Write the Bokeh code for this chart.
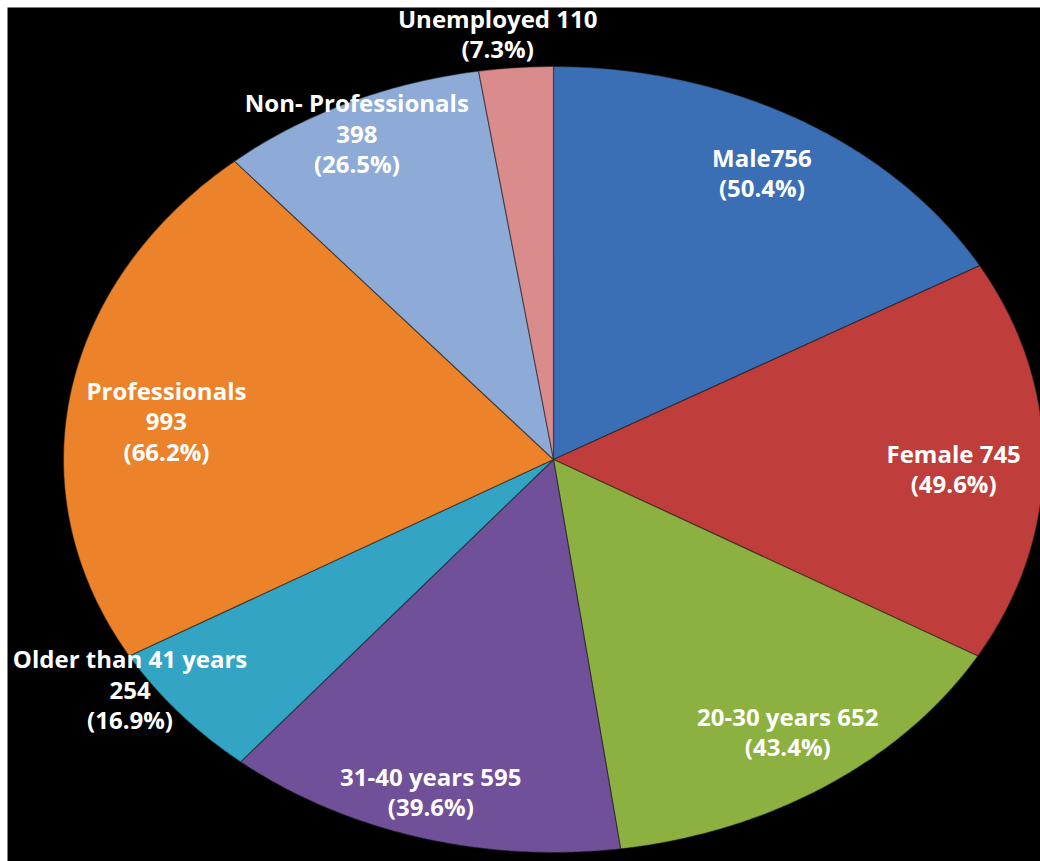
import numpy as np
from bokeh.plotting import figure
from bokeh.models import Range1d, ColumnDataSource
from bokeh.core.properties import value
from bokeh.embed import file_html
from bokeh.resources import INLINE

# ---- data ----
categories = ["Male", "Female", "20-30 years", "31-40 years", "Older than 41 years",
              "Professionals", "Non- Professionals", "Unemployed"]
counts = [756, 745, 652, 595, 254, 993, 398, 110]
percents = ["50.4%", "49.6%", "43.4%", "39.6%", "16.9%", "66.2%", "26.5%", "7.3%"]
label_texts = ["Male756\n(50.4%)", "Female 745\n(49.6%)", "20-30 years 652\n(43.4%)",
               "31-40 years 595\n(39.6%)", "Older than 41 years\n254\n(16.9%)",
               "Professionals\n993\n(66.2%)", "Non- Professionals\n398\n(26.5%)",
               "Unemployed 110\n(7.3%)"]

# ---- styles / layout ----
colors = ["#3B6FB5", "#BF3D3A", "#8DB140", "#6F5099", "#33A4C4", "#EC8229", "#8DABD6", "#D98C8B"]
label_r = [0.845, 0.817, 0.841, 0.881, 1.043, 0.796, 0.922, 1.09]
label_dangle = [0.0, -1.4, 0.7, -0.6, -6.1, 2.6, 1.1, 1.6]

W, H = 1040, 861
cx, cy = 553, 459
rx, ry = 490, 393

p = figure(width=W, height=H, output_backend="svg", toolbar_location=None,
           x_range=Range1d(7, W), y_range=Range1d(H, 7),
           x_axis_location=None, y_axis_location=None,
           min_border_left=7, min_border_top=7, min_border_right=0, min_border_bottom=0)
p.background_fill_color = "black"
p.border_fill_color = "white"
p.outline_line_color = None
p.grid.visible = False

total = float(sum(counts))
angles = np.array(counts) / total * 360.0
start = 90.0
xs, ys, mids = [], [], []
for a in angles:
    end = start - a
    t = np.radians(np.linspace(start, end, max(int(a * 2), 4)))
    px = np.concatenate([[cx], cx + rx * np.cos(t)])
    py = np.concatenate([[cy], cy - ry * np.sin(t)])
    xs.append(list(px))
    ys.append(list(py))
    mids.append((start + end) / 2)
    start = end

src = ColumnDataSource(dict(xs=xs, ys=ys, color=colors, cat=categories, n=counts))
p.patches("xs", "ys", source=src, fill_color="color", line_color="#1a1a1a",
          line_alpha=0.5, line_width=1.2)

lx, ly = [], []
for m, r, d in zip(mids, label_r, label_dangle):
    t = np.radians(m + d)
    lx.append(cx + r * rx * np.cos(t))
    ly.append(cy - r * ry * np.sin(t))

lsrc = ColumnDataSource(dict(x=lx, y=ly, text=label_texts))
p.text("x", "y", text="text", source=lsrc, text_color="white",
       text_font=value("Open Sans"), text_font_style="bold", text_font_size="24px",
       text_align="center", text_baseline="middle", text_line_height=0.92)

open("out.html", "w").write(file_html(p, INLINE))
